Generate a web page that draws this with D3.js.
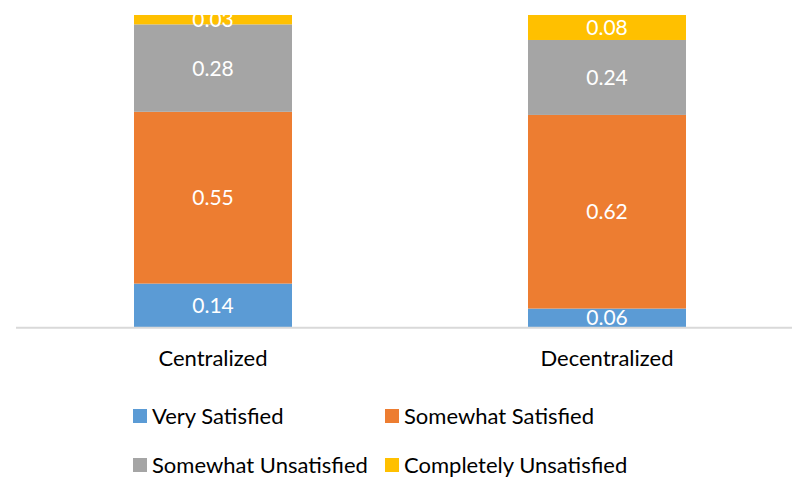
<!DOCTYPE html>
<html>
<head>
<meta charset="utf-8">
<script src="https://cdn.jsdelivr.net/npm/d3@7"></script>
<style>
html,body{margin:0;padding:0;background:#fff;}
svg{display:block;font-family:Lato,"Open Sans",sans-serif;}
</style>
</head>
<body>
<svg id="chart" width="792" height="480"></svg>
<script>
const categories = ["Centralized", "Decentralized"];
const seriesNames = ["Very Satisfied", "Somewhat Satisfied", "Somewhat Unsatisfied", "Completely Unsatisfied"];
const verySatisfied = [0.14, 0.06];
const somewhatSatisfied = [0.55, 0.62];
const somewhatUnsatisfied = [0.28, 0.24];
const completelyUnsatisfied = [0.03, 0.08];
const colors = ["#5B9BD5", "#ED7D31", "#A5A5A5", "#FFC000"];

const seriesValues = [verySatisfied, somewhatSatisfied, somewhatUnsatisfied, completelyUnsatisfied];
const rows = categories.map((c, i) => {
  const r = {cat: c};
  seriesNames.forEach((s, j) => r[s] = seriesValues[j][i]);
  return r;
});

const svg = d3.select("#chart");
const x = d3.scaleBand().domain(categories).range([16, 804]).paddingInner(0.599).paddingOuter(0.2995);
const y = d3.scaleLinear().domain([0, 1]).range([327.3, 15]);

const stack = d3.stack().keys(seriesNames)(rows);

const g = svg.append("g");
const layers = g.selectAll("g.layer").data(stack).join("g")
  .attr("class", "layer")
  .attr("fill", (d, i) => colors[i]);

layers.selectAll("rect").data(d => d).join("rect")
  .attr("x", d => x(d.data.cat))
  .attr("width", x.bandwidth())
  .attr("y", d => y(d[1]))
  .attr("height", d => y(d[0]) - y(d[1]));

// axis line
svg.append("line")
  .attr("x1", x.range()[0]).attr("x2", x.range()[1])
  .attr("y1", y(0) + 0.5).attr("y2", y(0) + 0.5)
  .attr("stroke", "#D9D9D9").attr("stroke-width", 2);

// value labels
layers.selectAll("text").data(d => d).join("text")
  .attr("x", d => x(d.data.cat) + x.bandwidth() / 2)
  .attr("y", d => (y(d[0]) + y(d[1])) / 2)
  .attr("dy", "0.36em")
  .attr("text-anchor", "middle")
  .attr("fill", "#FFFFFF")
  .attr("font-size", 21)
  .text(d => (d[1] - d[0]).toFixed(2));

// category labels
const xAxis = d3.axisBottom(x).tickSize(0).tickPadding(0);
const ax = svg.append("g").attr("transform", `translate(0,${y(0)})`).call(xAxis);
ax.select(".domain").remove();
ax.selectAll("text")
  .attr("font-family", "Lato,'Open Sans',sans-serif")
  .attr("font-size", 22)
  .attr("fill", "#000")
  .attr("dy", null)
  .attr("y", 38.5);

// legend
const legX = [133, 385];
const legY = [416, 465];
const leg = svg.append("g").selectAll("g").data(seriesNames).join("g")
  .attr("transform", (d, i) => `translate(${legX[i % 2]},${legY[Math.floor(i / 2)]})`);
leg.append("rect").attr("x", 0).attr("y", -7).attr("width", 14).attr("height", 14)
  .attr("fill", (d, i) => colors[i]);
leg.append("text").attr("x", 19).attr("y", 0).attr("dy", "0.36em")
  .attr("font-size", 22).attr("fill", "#000").text(d => d);
</script>
</body>
</html>
